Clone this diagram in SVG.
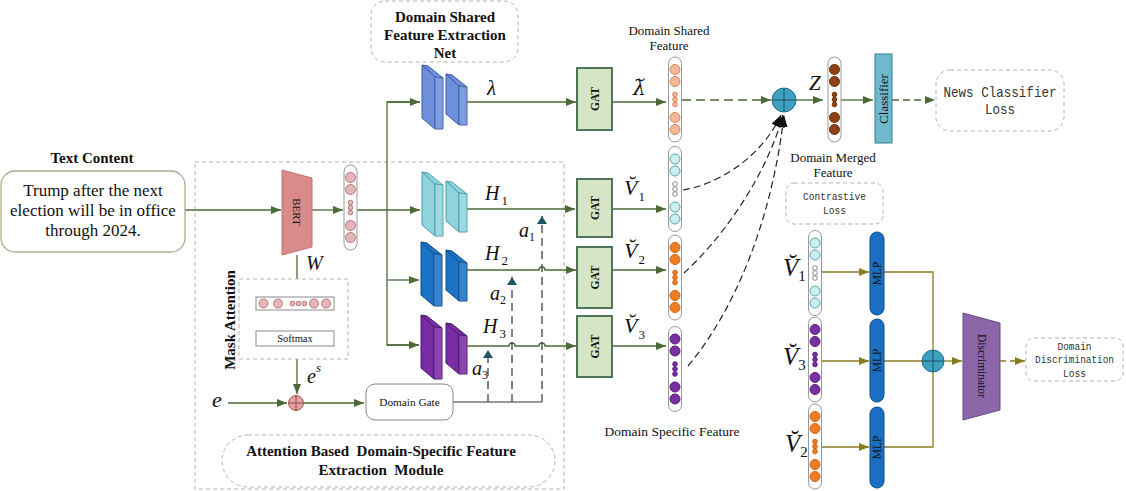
<svg xmlns="http://www.w3.org/2000/svg" width="1126" height="491" viewBox="0 0 1126 491">
<style>
 .t{font-family:"Liberation Serif","Times New Roman",serif;fill:#111}
 .b{font-weight:bold}
 .i{font-style:italic}
 .m{font-family:"Liberation Mono","Courier New",monospace;fill:#333}
 .ln{fill:none;stroke:#4b6a38;stroke-width:1.3}
 .ol{fill:none;stroke:#8a7a22;stroke-width:1.3}
 .dsh{stroke-dasharray:9 5}
 .box{fill:#fff;stroke:#b4b4b4;stroke-width:1;stroke-dasharray:4 3}
 .gat{fill:#d6e5c5;stroke:#4f7458;stroke-width:2}
 .mlp{fill:#1a6fc2;stroke:#0e4c8c;stroke-width:1}
</style>
<defs>
 <marker id="ag" viewBox="0 0 10 8" refX="10" refY="4" markerWidth="10" markerHeight="8" markerUnits="userSpaceOnUse" orient="auto"><path d="M0,0L10,4L0,8z" fill="#4b6a38"/></marker>
 <marker id="ay" viewBox="0 0 10 8" refX="10" refY="4" markerWidth="10" markerHeight="8" markerUnits="userSpaceOnUse" orient="auto"><path d="M0,0L10,4L0,8z" fill="#8a7a22"/></marker>
 <marker id="ak" viewBox="0 0 12 10" refX="12" refY="5" markerWidth="12" markerHeight="10" markerUnits="userSpaceOnUse" orient="auto"><path d="M0,0L12,5L0,10z" fill="#111"/></marker>
 <marker id="at" viewBox="0 0 8 10" refX="8" refY="5" markerWidth="8" markerHeight="10" markerUnits="userSpaceOnUse" orient="auto"><path d="M0,0L8,5L0,10z" fill="#1d5560"/></marker>
 <g id="blk1" stroke-width="1">
  <polygon points="0,0 6,1 21,13 13,12"/>
  <polygon points="0,0 13,12 13,64 0,53"/>
  <polygon points="13,12 21,13 21,64 13,64"/>
  <polygon points="13,12 21,13 21,64 13,64" fill="#fff" fill-opacity="0.12" stroke="none"/>
 </g>
 <g id="blk2" stroke-width="1">
  <polygon points="0,0 6,1 21,13 13,12"/>
  <polygon points="0,0 13,12 13,51 0,40"/>
  <polygon points="13,12 21,13 21,51 13,51"/>
  <polygon points="13,12 21,13 21,51 13,51" fill="#fff" fill-opacity="0.12" stroke="none"/>
 </g>
 <g id="vec">
  <rect x="-6.5" y="-42.5" width="13" height="85" rx="6.5" fill="#fff" stroke="#999"/>
  <circle cy="-30" r="5"/><circle cy="-18" r="5"/>
  <circle cy="-5" r="2.3"/><circle r="2.3"/><circle cy="5" r="2.3"/>
  <circle cy="18" r="5"/><circle cy="30" r="5"/>
 </g>
 <g id="vecB">
  <rect x="-6.5" y="-42.5" width="13" height="85" rx="6.5" fill="#fff" stroke="#999"/>
  <circle cy="-30" r="5"/><circle cy="-18" r="5"/>
  <circle cy="-5" r="2.3" fill="#fff" stroke="#888"/><circle r="2.3" fill="#fff" stroke="#888"/><circle cy="5" r="2.3" fill="#fff" stroke="#888"/>
  <circle cy="18" r="5"/><circle cy="30" r="5"/>
 </g>
</defs>
<rect width="1126" height="491" fill="#fff"/>

<g id="module-frame">
 <rect x="195" y="162" width="369" height="327" fill="none" stroke="#b4b4b4" stroke-width="1" stroke-dasharray="4 3"/>
</g>

<g id="connectors">
 <path class="ln" d="M185,210H281" marker-end="url(#ag)"/>
 <path class="ln" d="M312,210H343" marker-end="url(#ag)"/>
 <path class="ln" d="M357,210H420" marker-end="url(#ag)"/>
 <path class="ln" d="M420,102H387V345H419"/>
 <path class="ln" d="M387,102H420" marker-end="url(#ag)"/>
 <path class="ln" d="M387,280H419" marker-end="url(#ag)"/>
 <path class="ln" d="M387,345H419" marker-end="url(#ag)"/>
 <path class="ln" d="M467,102H576" marker-end="url(#ag)"/>
 <path class="ln" d="M467,209H575" marker-end="url(#ag)"/>
 <path class="ln" d="M467,270H539a3,3 0 0 1 6,0H576" marker-end="url(#ag)"/>
 <path class="ln" d="M467,346H509a3,3 0 0 1 6,0H539a3,3 0 0 1 6,0H576" marker-end="url(#ag)"/>
 <path class="ln" d="M612,102H666" marker-end="url(#ag)"/>
 <path class="ln" d="M612,209H666" marker-end="url(#ag)"/>
 <path class="ln" d="M613,270H666" marker-end="url(#ag)"/>
 <path class="ln" d="M613,346H666" marker-end="url(#ag)"/>
 <path class="ln" d="M297,255V296" marker-end="url(#ag)"/>
 <path class="ln" d="M297,310V330" marker-end="url(#ag)"/>
 <path class="ln" d="M297,346V394" marker-end="url(#ag)"/>
 <path class="ln" d="M228,403H287" marker-end="url(#ag)"/>
 <path class="ln" d="M304,403H364" marker-end="url(#ag)"/>
 <path d="M453,402H542" fill="none" stroke="#333" stroke-width="1.2"/>
 <path d="M488,402V350" fill="none" stroke="#333" stroke-width="1.2" stroke-dasharray="8 5" marker-end="url(#at)"/>
 <path d="M512,402V277" fill="none" stroke="#333" stroke-width="1.2" stroke-dasharray="8 5" marker-end="url(#at)"/>
 <path d="M542,402V216" fill="none" stroke="#333" stroke-width="1.2" stroke-dasharray="8 5" marker-end="url(#at)"/>
 <path class="ln dsh" d="M682,100H771" marker-end="url(#ag)"/>
 <path class="ln" d="M796,100H823" marker-end="url(#ag)"/>
 <path class="ln" d="M841,100H873" marker-end="url(#ag)"/>
 <path class="ln" d="M892,100H935" stroke-dasharray="7 4" marker-end="url(#ag)"/>
 <path d="M683,190C715,185 760,160 781,115" fill="none" stroke="#222" stroke-width="1.2" stroke-dasharray="7 4" marker-end="url(#ak)"/>
 <path d="M684,273C720,240 765,180 783,115" fill="none" stroke="#222" stroke-width="1.2" stroke-dasharray="7 4" marker-end="url(#ak)"/>
 <path d="M688,366C735,310 772,220 784,115" fill="none" stroke="#222" stroke-width="1.2" stroke-dasharray="7 4" marker-end="url(#ak)"/>
 <path class="ol" d="M821,272H869" marker-end="url(#ay)"/>
 <path class="ol" d="M821,361H869" marker-end="url(#ay)"/>
 <path class="ol" d="M821,447H869" marker-end="url(#ay)"/>
 <path class="ol" d="M884,272H933V447H884"/>
 <path class="ol" d="M884,361H922"/>
 <path class="ol" d="M944,361H962" marker-end="url(#ay)"/>
 <path class="ol" d="M1000,361H1025" stroke-dasharray="6 4" marker-end="url(#ay)"/>
</g>

<g id="text-content">
 <text class="t b" x="92" y="163" font-size="15" text-anchor="middle">Text Content</text>
 <rect x="1" y="171" width="184" height="81" rx="14" fill="#fff" stroke="#b0aa90" stroke-width="1.3"/>
 <text class="t" x="93" y="196" font-size="17" text-anchor="middle">Trump after the next</text>
 <text class="t" x="93" y="216" font-size="17" text-anchor="middle">election will be in office</text>
 <text class="t" x="93" y="236" font-size="17" text-anchor="middle">through 2024.</text>
</g>

<g id="bert">
 <polygon points="282,170 312,178 312,247 282,255" fill="#d98a8a" stroke="#c07474" stroke-width="1"/>
 <text class="t" transform="translate(297,212) rotate(90)" x="0" y="4" font-size="11" text-anchor="middle" fill="#333">BERT</text>
</g>
<g id="bert-vector">
 <use href="#vec" x="350.5" y="207.5" fill="#e8b4b8" stroke="#b07a80"/>
</g>

<g id="mask-attention">
 <rect class="box" x="239" y="279" width="109" height="80" fill="none"/>
 <text class="t b" transform="translate(230,320) rotate(-90)" x="0" y="5" font-size="15" text-anchor="middle">Mask Attention</text>
 <rect x="256" y="297" width="78" height="13" fill="#fff" stroke="#8a8a8a" stroke-width="1"/>
 <g fill="#e8b4b8" stroke="#b07a80">
  <circle cx="263.5" cy="303.5" r="4.5"/><circle cx="278" cy="303.5" r="4.5"/>
  <circle cx="292.5" cy="303.5" r="2.3"/><circle cx="298.5" cy="303.5" r="2.3"/><circle cx="304.5" cy="303.5" r="2.3"/>
  <circle cx="314" cy="303.5" r="4.5"/><circle cx="326" cy="303.5" r="4.5"/>
 </g>
 <rect x="256" y="331" width="78" height="15" fill="#fff" stroke="#8a8a8a" stroke-width="1"/>
 <text class="t" x="295" y="342" font-size="10.5" text-anchor="middle" fill="#333">Softmax</text>
</g>
<g id="mask-plus">
 <circle cx="296" cy="403" r="7.5" fill="#e3a0a0" stroke="#a05a5a" stroke-width="1"/>
 <path d="M288.5,403H303.5M296,395.5V410.5" stroke="#8a4a4a" stroke-width="1"/>
</g>
<g id="domain-gate">
 <rect x="366" y="384" width="87" height="36" rx="9" fill="#fff" stroke="#888" stroke-width="1"/>
 <text class="t" x="409.5" y="406" font-size="11.3" text-anchor="middle" fill="#222">Domain Gate</text>
</g>
<g id="module-label">
 <rect class="box" x="222" y="435" width="333" height="52" rx="26"/>
 <text class="t b" x="381" y="456" font-size="15" text-anchor="middle" xml:space="preserve">Attention Based  Domain-Specific Feature</text>
 <text class="t b" x="381" y="475" font-size="15" text-anchor="middle" xml:space="preserve">Extraction  Module</text>
</g>

<g id="shared-net-label">
 <rect class="box" x="371" y="1" width="147" height="61" rx="14"/>
 <text class="t b" x="445" y="22" font-size="15" text-anchor="middle">Domain Shared</text>
 <text class="t b" x="445" y="40" font-size="15" text-anchor="middle">Feature Extraction</text>
 <text class="t b" x="445" y="58" font-size="15" text-anchor="middle">Net</text>
</g>

<g id="shared-blocks" fill="#6d8fdc" stroke="#3c5aa8">
 <use href="#blk1" x="422" y="65"/><use href="#blk2" x="446" y="74"/>
</g>
<g id="h1-blocks" fill="#8fd3dc" stroke="#4d9ea8">
 <use href="#blk1" x="422" y="172"/><use href="#blk2" x="446" y="181"/>
</g>
<g id="h2-blocks" fill="#1c72c4" stroke="#0e4c8c">
 <use href="#blk1" x="421" y="242"/><use href="#blk2" x="446" y="250"/>
</g>
<g id="h3-blocks" fill="#7a2ca4" stroke="#4a1570">
 <use href="#blk1" x="421" y="315"/><use href="#blk2" x="446" y="323"/>
</g>

<g id="labels-left">
 <text class="t i" x="487" y="95" font-size="21">λ</text>
 <text class="t i" x="485" y="200" font-size="20">H<tspan font-style="normal" font-size="13" dx="2" dy="5">1</tspan></text>
 <text class="t i" x="485" y="260" font-size="20">H<tspan font-style="normal" font-size="13" dx="2" dy="5">2</tspan></text>
 <text class="t i" x="483" y="333" font-size="20">H<tspan font-style="normal" font-size="13" dx="2" dy="5">3</tspan></text>
 <text class="t i" x="519" y="237" font-size="20">a<tspan font-style="normal" font-size="12" dy="4">1</tspan></text>
 <text class="t i" x="490" y="300" font-size="20">a<tspan font-style="normal" font-size="12" dy="4">2</tspan></text>
 <text class="t i" x="472" y="375" font-size="20">a<tspan font-style="normal" font-size="12" dy="4">3</tspan></text>
 <text class="t i" x="306" y="270" font-size="20">W</text>
 <text class="t i" x="307" y="383" font-size="20">e<tspan font-size="13" dy="-11">s</tspan></text>
 <text class="t i" x="212" y="407" font-size="22">e</text>
</g>

<g id="gat1"><rect class="gat" x="577" y="68" width="35" height="62"/><text class="t b" transform="translate(594.5,99) rotate(-90)" y="4" font-size="11.5" text-anchor="middle">GAT</text></g>
<g id="gat2"><rect class="gat" x="577" y="179" width="35" height="58"/><text class="t b" transform="translate(594.5,208) rotate(-90)" y="4" font-size="11.5" text-anchor="middle">GAT</text></g>
<g id="gat3"><rect class="gat" x="577" y="247" width="35" height="61"/><text class="t b" transform="translate(594.5,277.5) rotate(-90)" y="4" font-size="11.5" text-anchor="middle">GAT</text></g>
<g id="gat4"><rect class="gat" x="577" y="316" width="35" height="61"/><text class="t b" transform="translate(594.5,346.5) rotate(-90)" y="4" font-size="11.5" text-anchor="middle">GAT</text></g>

<g id="labels-gat-out">
 <text x="633" y="95" font-size="20" font-style="italic" font-family="'DejaVu Serif', serif" fill="#111">λ&#x306;</text>
 <text class="t i" x="624" y="195" font-size="22">V&#x306;<tspan font-style="normal" font-size="13" dx="1" dy="6">1</tspan></text>
 <text class="t i" x="624" y="258" font-size="22">V&#x306;<tspan font-style="normal" font-size="13" dx="1" dy="6">2</tspan></text>
 <text class="t i" x="624" y="333" font-size="22">V&#x306;<tspan font-style="normal" font-size="13" dx="1" dy="6">3</tspan></text>
</g>

<g id="shared-feature">
 <text class="t" x="669" y="35" font-size="13" text-anchor="middle">Domain Shared</text>
 <text class="t" x="669" y="50" font-size="13" text-anchor="middle">Feature</text>
 <use href="#vec" x="675" y="99.5" fill="#f6b897" stroke="#d0845a"/>
</g>
<g id="specific-features">
 <use href="#vecB" x="675" y="189" fill="#c9eff2" stroke="#5aa6ae"/>
 <use href="#vec" x="675" y="277.5" fill="#f07c22" stroke="#d06414"/>
 <use href="#vec" x="675" y="369" fill="#7a30a0" stroke="#5a1a80"/>
 <text class="t" x="672" y="436" font-size="13.5" text-anchor="middle">Domain Specific Feature</text>
</g>

<g id="merge-plus">
 <circle cx="784" cy="100" r="12" fill="#3ea0c0" stroke="#1f6f8a" stroke-width="1"/>
 <path d="M772,100H796M784,88V112" stroke="#1d4f60" stroke-width="1"/>
</g>
<g id="merged-feature">
 <text class="t i" x="809" y="90" font-size="21">Z</text>
 <use href="#vec" x="834.5" y="99.5" fill="#8f4314" stroke="#6b2e0a"/>
 <text class="t" x="833" y="162" font-size="13" text-anchor="middle">Domain Merged</text>
 <text class="t" x="833" y="177" font-size="13" text-anchor="middle">Feature</text>
</g>
<g id="classifier">
 <rect x="875" y="54" width="17" height="89" fill="#70b9cd" stroke="#3a7f92" stroke-width="1"/>
 <text class="t" transform="translate(883.5,99) rotate(-90)" y="4.5" font-size="13" text-anchor="middle" fill="#1a2a40">Classifier</text>
</g>
<g id="news-loss">
 <rect class="box" x="936" y="70" width="128" height="61" rx="14"/>
 <text class="m" x="1000" y="97" font-size="15" text-anchor="middle" textLength="113" lengthAdjust="spacingAndGlyphs">News Classifier</text>
 <text class="m" x="1000" y="114" font-size="15" text-anchor="middle" textLength="30" lengthAdjust="spacingAndGlyphs">Loss</text>
</g>
<g id="contrastive-loss">
 <rect class="box" x="786" y="183" width="97" height="41" rx="8"/>
 <text class="m" x="834.5" y="200" font-size="11" text-anchor="middle" textLength="63" lengthAdjust="spacingAndGlyphs">Contrastive</text>
 <text class="m" x="834.5" y="214" font-size="11" text-anchor="middle" textLength="23" lengthAdjust="spacingAndGlyphs">Loss</text>
</g>

<g id="contrast-vectors">
 <use href="#vecB" x="815" y="273" fill="#c9eff2" stroke="#5aa6ae"/>
 <use href="#vec" x="815" y="359.5" fill="#7a30a0" stroke="#5a1a80"/>
 <use href="#vec" x="815" y="446.5" fill="#f07c22" stroke="#d06414"/>
 <text class="t i" x="783" y="276" font-size="25">V&#x306;<tspan font-style="normal" font-size="15" dx="0" dy="5">1</tspan></text>
 <text class="t i" x="783" y="365" font-size="25">V&#x306;<tspan font-style="normal" font-size="15" dx="0" dy="5">3</tspan></text>
 <text class="t i" x="785" y="452" font-size="25">V&#x306;<tspan font-style="normal" font-size="15" dx="0" dy="5">2</tspan></text>
</g>
<g id="mlp1"><rect class="mlp" x="870" y="232" width="14" height="83" rx="7"/><text class="t" transform="translate(877,273.5) rotate(-90)" y="4" font-size="11.5" text-anchor="middle" fill="#0a2448">MLP</text></g>
<g id="mlp2"><rect class="mlp" x="870" y="319" width="14" height="83" rx="7"/><text class="t" transform="translate(877,360.5) rotate(-90)" y="4" font-size="11.5" text-anchor="middle" fill="#0a2448">MLP</text></g>
<g id="mlp3"><rect class="mlp" x="870" y="407" width="14" height="81" rx="7"/><text class="t" transform="translate(877,447.5) rotate(-90)" y="4" font-size="11.5" text-anchor="middle" fill="#0a2448">MLP</text></g>
<g id="disc-plus">
 <circle cx="933" cy="361" r="11" fill="#3ea0c0" stroke="#1f6f8a" stroke-width="1"/>
 <path d="M922,361H944M933,350V372" stroke="#1d4f60" stroke-width="1"/>
</g>
<g id="discriminator">
 <polygon points="963,313 1000,323 1000,410 963,420" fill="#8d66a9" stroke="#6a4a88" stroke-width="1"/>
 <text class="t" transform="translate(981.5,366) rotate(90)" y="4" font-size="11.5" text-anchor="middle" fill="#1a1030">Discriminator</text>
</g>
<g id="disc-loss">
 <rect class="box" x="1026" y="338" width="97" height="43" rx="8"/>
 <text class="m" x="1074.5" y="350" font-size="10.5" text-anchor="middle" textLength="34" lengthAdjust="spacingAndGlyphs">Domain</text>
 <text class="m" x="1074.5" y="363" font-size="10.5" text-anchor="middle" textLength="79" lengthAdjust="spacingAndGlyphs">Discrimination</text>
 <text class="m" x="1074.5" y="377" font-size="10.5" text-anchor="middle" textLength="23" lengthAdjust="spacingAndGlyphs">Loss</text>
</g>
</svg>
